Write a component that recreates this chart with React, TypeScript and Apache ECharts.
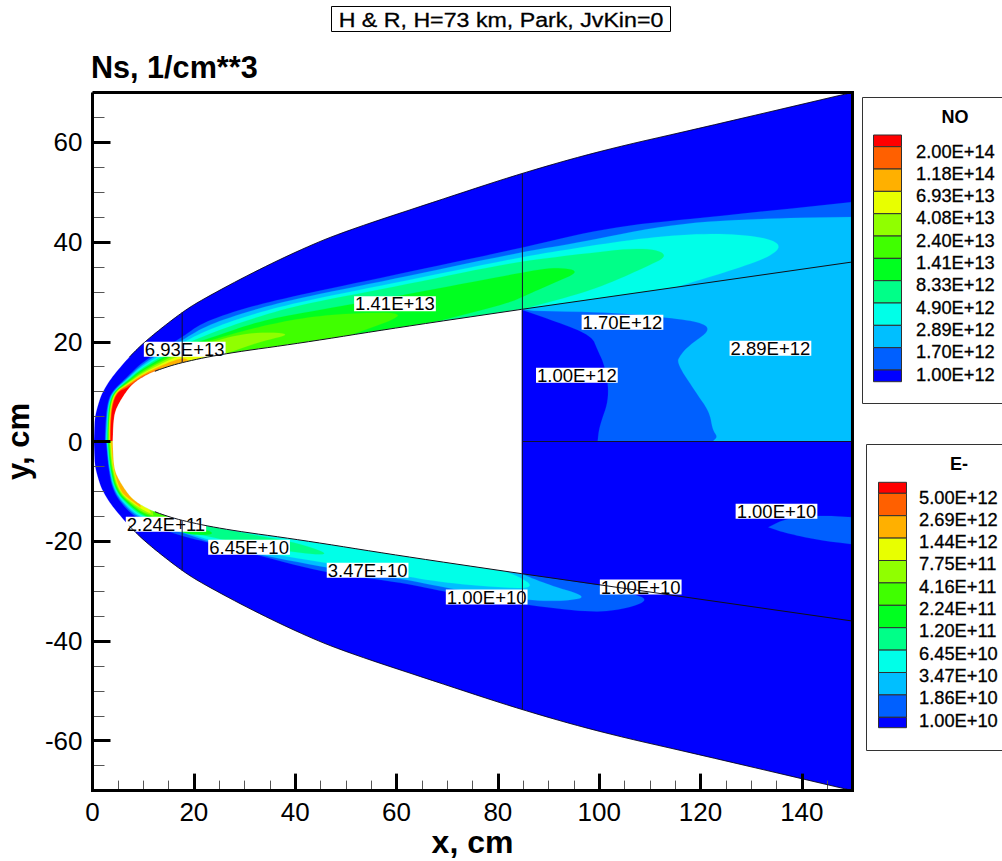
import React, { useEffect, useRef } from "react";
import * as echarts from "echarts";

type P = number[];

// Level colours, lowest to highest
const levelColors = ["#0000ff", "#0060ff", "#00bfff", "#00ffe8", "#00ff88", "#00ff20", "#40ff00", "#90ff00", "#e8ff00", "#ffb000", "#ff6000", "#ff0000"];
const noLabels = ["1.00E+12", "1.70E+12", "2.89E+12", "4.90E+12", "8.33E+12", "1.41E+13", "2.40E+13", "4.08E+13", "6.93E+13", "1.18E+14", "2.00E+14"];
const eLabels = ["1.00E+10", "1.86E+10", "3.47E+10", "6.45E+10", "1.20E+11", "2.24E+11", "4.16E+11", "7.75E+11", "1.44E+12", "2.69E+12", "5.00E+12"];
const majorX = [0, 20, 40, 60, 80, 100, 120, 140];
const majorY = [-60, -40, -20, 0, 20, 40, 60];

// Geometry of the flow field, in cm
const shockUpper: P[] = [[0.3, 0], [0.4, 2.5], [0.5, 4.9], [1.1, 7.3], [1.9, 9.7], [3.3, 12.1], [5, 14.3], [7.4, 17.1], [10, 19.7], [13.7, 22.8], [17.7, 25.9], [21.2, 28.2], [31.1, 33.6], [40.9, 38.4], [49.4, 42], [68.5, 48.4], [84.7, 53.8], [100.7, 58.4], [119.8, 62.8], [150, 70]];
const bodyUpper: P[] = [[4, 0], [4.1, 3.3], [4.4, 5.9], [5.4, 8], [6.8, 10.2], [8, 11.6], [10, 13], [12.7, 14.3], [17.7, 15.9], [26.5, 17.7], [40.9, 19.7], [60.6, 22.9], [84.7, 26.5]];
const bodyWake: P[] = [[84.7, 26.5], [150, 36]];

// NO contours (upper half)
const no170: P[] = [[2.45, 0], [2.55, 3.3], [2.9, 7.5], [3.8, 10], [6.8, 12.9], [10, 16.1], [17.7, 20.9], [21.8, 23.9], [30.5, 26.9], [40.9, 29.4], [60.6, 33.6], [84.7, 38.8], [102.1, 43], [121.8, 45], [150, 48], [150, 0], [99.7, 0], [100, 2.9], [102.1, 8.9], [101.1, 15.3], [99.7, 18.3], [98.5, 21.3], [90.8, 24.3], [85, 26.3]];
const no289: P[] = [[2.6, 0], [2.7, 3.3], [3.05, 7.5], [3.95, 10], [6.8, 12.6], [10, 15.7], [17.7, 20.3], [22.4, 23.2], [31, 26.2], [40.9, 28.8], [60.6, 32.8], [84.7, 38], [95.6, 39.8], [115.3, 43.8], [135, 44.8], [150, 45], [150, 0], [122.4, 0], [123.4, 0.9], [122.4, 2.3], [121.8, 5.9], [119.2, 9.7], [115.3, 15.7], [116, 17.3], [117.8, 19.3], [122, 22.3], [120.2, 23.9], [113.3, 24.9], [102.1, 25.9], [87, 26.2]];
const no490: P[] = [[2.75, 0], [2.85, 3.3], [3.15, 7.5], [4.1, 10], [6.8, 12.4], [10, 15.3], [17.7, 19.8], [23, 22.5], [31.5, 25.5], [40.9, 28], [60.6, 32], [84.7, 37], [95.6, 38.8], [108.6, 40.8], [121.8, 41.8], [132, 41.1], [136.2, 39.4], [133.5, 36.9], [125.1, 34], [115.3, 31]];
const no833: P[] = [[2.9, 0], [2.95, 3.3], [3.25, 7.5], [4.2, 10], [6.8, 12.2], [10, 15], [17.7, 19.3], [23.6, 21.8], [32, 24.8], [40.9, 27.4], [60.6, 31.2], [82.3, 35.8], [95.6, 37.5], [109, 39], [114, 37.4], [109, 34.9], [102.1, 31.8], [96.7, 29.8], [86.3, 26.9]];
const no1410: P[] = [[3, 0], [3.05, 3.3], [3.35, 7.5], [4.3, 10], [6.8, 12], [10, 14.7], [17.7, 18.9], [24, 21], [32.6, 24], [40.9, 25.7], [60.6, 29.2], [82.3, 33.4], [91, 35], [96.5, 34.2], [91, 31.8], [85.7, 29.4], [82.3, 27.8], [68.5, 24.2]];
const no2400: P[] = [[3.1, 0], [3.15, 3.3], [3.45, 7.5], [4.4, 10], [6.8, 11.8], [10, 14.4], [17.7, 18.5], [24, 20.5], [32, 22.8], [40.9, 24.7], [50, 25.7], [63.5, 25.9], [50.8, 21.3]];
const no4080: P[] = [[3.2, 0], [3.2, 3.3], [3.55, 7.5], [4.5, 10], [6.8, 11.6], [10, 14.1], [17.7, 18.1], [22, 19.5], [30.5, 21.9], [40, 21.7], [33, 20], [26.5, 17.7]];
const no6930: P[] = [[3.3, 0], [3.3, 3.3], [3.65, 7.5], [4.6, 10], [6.8, 11.5], [10, 13.8], [17.7, 17.6], [21.2, 17.4], [23, 17]];
const no11800: P[] = [[3.4, 0], [3.4, 3.3], [3.75, 7.5], [4.75, 10], [6.8, 11.3], [10, 13.6], [17.7, 17], [19, 16.2]];
const no20000: P[] = [[3.5, 0], [3.5, 3.3], [3.85, 7.5], [4.9, 10], [6.8, 11.1], [10, 13.3], [13.3, 14.7]];
const noRed: P[] = [[3.6, 0], [3.6, 3.3], [3.95, 7.5], [5, 10], [6.8, 10.7], [9, 12.4], [10.4, 12.9]];

// E- contours (lower half)
const e186: P[] = [[2.7, 0], [3.1, -5], [4, -10], [6.8, -13.8], [10, -16.2], [17.7, -19], [21.2, -19.8], [31.1, -22.4], [46.3, -26.4], [60.6, -28.2], [69.9, -30.2], [85.7, -32.8], [98.7, -34.3], [105, -33.6], [110, -31.8], [106, -30.3], [100.1, -28.8]];
const e347: P[] = [[2.8, 0], [3.2, -5], [4.2, -10], [7, -13.6], [10, -15.7], [17.7, -18.3], [27.7, -21.6], [46.5, -25.4], [60.6, -27.4], [69.9, -29.4], [85.9, -31.9], [93, -32], [98, -31.2], [90.2, -28.8], [85.7, -27], [84.7, -26.5]];
const e645: P[] = [[2.9, 0], [3.3, -5], [4.35, -10], [7.2, -13.4], [10, -15.4], [17.7, -18], [27.7, -21.2], [46.3, -24.4], [60.6, -26.8], [69.9, -28.4], [85, -29.6], [86.8, -28.8], [84.3, -27.2], [81.4, -26]];
const e1200: P[] = [[3, 0], [3.4, -5], [4.5, -10], [7.4, -13.2], [10, -15.1], [17.7, -17.8], [27, -20], [39.5, -22.2], [47.5, -22.9], [40.9, -20.4], [30, -18.4], [23, -17]];
const e2240: P[] = [[3.1, 0], [3.5, -5], [4.65, -10], [7.6, -13], [10, -14.8], [17.7, -18.4], [22, -18.8], [24.2, -18.4], [21, -17.2], [19, -16.2]];
const e4160: P[] = [[3.25, 0], [3.6, -5], [4.8, -10], [7.8, -12.9], [10, -14.5], [13.3, -15.6], [15, -15.4]];
const e7750: P[] = [[3.4, 0], [3.75, -5], [5, -10], [7.9, -12.7], [10, -14.2], [12, -14.9]];
const e14400: P[] = [[3.55, 0], [3.9, -5], [5.2, -10], [8, -12.5], [10.5, -14], [11.5, -14.4]];
const e26900: P[] = [[3.7, 0], [4.05, -5], [5.45, -10], [7.5, -11.7], [9.5, -13.2]];
const eWakeBlob: P[] = [[133.4, -17.2], [136.9, -15.4], [143.5, -14.8], [150, -15.2], [150, -20.6], [143.5, -19.8], [136.9, -18.4], [133.4, -17.2]];

// Contour labels: x, y, text
const contourLabels: [number, number, string][] = [
  [59.7, 27.6, "1.41E+13"], [18.2, 18.5, "6.93E+13"], [104.6, 23.9, "1.70E+12"], [133.8, 18.7, "2.89E+12"], [95.6, 13.3, "1.00E+12"],
  [14.5, -16.6, "2.24E+11"], [30.9, -21.2, "6.45E+10"], [54.3, -25.8, "3.47E+10"], [77.8, -31.2, "1.00E+10"], [108.2, -29.2, "1.00E+10"], [135, -14, "1.00E+10"],
];

// Rounds a contour's drawn corners (corner cutting); points on the right edge or on y=0 stay sharp.
const rounded = (pts: P[]): P[] => {
  const isCorner = (p: P) => p[0] === 150 || p[1] === 0;
  let cur = pts;
  for (let it = 0; it < 3; it++) {
    const out: P[] = [cur[0]];
    for (let i = 0; i < cur.length - 1; i++) {
      const a = cur[i], b = cur[i + 1];
      const keepA = i === 0 || isCorner(a);
      const keepB = i === cur.length - 2 || isCorner(b);
      if (!keepA) out.push([0.75 * a[0] + 0.25 * b[0], 0.75 * a[1] + 0.25 * b[1]]);
      if (!keepB) out.push([0.25 * a[0] + 0.75 * b[0], 0.25 * a[1] + 0.75 * b[1]]);
      if (keepB) out.push(b);
    }
    cur = out;
  }
  return cur;
};

const mirror = (pts: P[]): P[] => pts.map(([x, y]) => [x, -y]);
const bodyRound = rounded(bodyUpper);
const shockRound = rounded(shockUpper);
const closeOnBody = (edge: P[], sign: number): P[] => {
  const endX = edge[edge.length - 1][0];
  const back = bodyRound.filter(([x]) => x < endX).reverse().map(([x, y]) => [x, sign * y]);
  return [...rounded(edge), ...back];
};

const domain: P[] = [...shockRound, ...mirror(shockRound).reverse()];
const bodyMask: P[] = [...bodyRound, ...mirror(bodyRound).reverse()];

const fills: { pts: P[]; color: string }[] = [
  { pts: domain, color: levelColors[0] },
  ...[no170, no289, no490, no833, no1410, no2400, no4080, no6930, no11800, no20000, noRed].map((e, i) => ({ pts: closeOnBody(e, 1), color: levelColors[i + 1] })),
  ...[e186, e347, e645, e1200, e2240, e4160, e7750, e14400, e26900].map((e, i) => ({ pts: closeOnBody(e, -1), color: levelColors[i + 1] })),
  { pts: rounded(eWakeBlob), color: levelColors[1] },
  { pts: bodyMask, color: "#ffffff" },
];

const shockOutlineU = shockRound.filter(([x]) => x >= 7);
const bodyOutlineU = [...bodyRound.filter(([x]) => x >= 12), bodyWake[1]];
const strokes: { pts: P[]; w: number; c: string }[] = [
  { pts: shockOutlineU, w: 0.8, c: "#000000" },
  { pts: mirror(shockOutlineU), w: 0.8, c: "#000000" },
  { pts: bodyOutlineU, w: 1, c: "#101018" },
  { pts: mirror(bodyOutlineU), w: 1, c: "#101018" },
  { pts: [[84.85, 53.8], [84.85, -53.8]], w: 1, c: "#101030" },
  { pts: [[84.85, 0], [150, 0]], w: 1, c: "#101030" },
  { pts: [[17.7, 25.9], [17.7, 15.9]], w: 1, c: "#101030" },
  { pts: [[17.7, -15.9], [17.7, -25.9]], w: 1, c: "#101030" },
];
const frame: P[] = [[0, 70], [150, 70], [150, -70], [0, -70], [0, 70]];

const FONT = '"Liberation Sans", Arial, sans-serif';

function legend(title: string, labels: string[], L: { boxX: number; boxY: number; boxH: number; swX: number; top: number; first: number; step: number; bottom: number; textX: number; textY: number; titleX: number; titleY: number }) {
  const els: any[] = [];
  els.push({ type: "rect", shape: { x: L.boxX + 0.5, y: L.boxY + 0.5, width: 1010 - L.boxX, height: L.boxH }, style: { fill: "#fff", stroke: "#333", lineWidth: 1 } });
  els.push({ type: "text", x: L.titleX, y: L.titleY, style: { text: title, font: `bold 18px ${FONT}`, fill: "#000", align: "center", verticalAlign: "middle" } });
  const n = levelColors.length;
  for (let i = 0; i < n; i++) {
    const idxTop = n - 1 - i;
    const y0 = i === 0 ? L.top : L.first + (i - 1) * L.step;
    const y1 = i === n - 1 ? L.bottom : L.first + i * L.step;
    els.push({ type: "rect", shape: { x: L.swX + 0.5, y: y0, width: 28, height: y1 - y0 }, style: { fill: levelColors[idxTop], stroke: "#303030", lineWidth: 1 } });
  }
  labels.slice().reverse().forEach((t, i) => {
    els.push({ type: "text", x: L.textX, y: L.textY + i * 22.3, style: { text: t, font: `18.3px ${FONT}`, fill: "#000", align: "left", verticalAlign: "middle", stroke: "#000", lineWidth: 0.3 } });
  });
  return els;
}

export default function App() {
  const ref = useRef<HTMLDivElement>(null);
  useEffect(() => {
    document.body.style.margin = "0";
    const chart = echarts.init(ref.current!, null, { renderer: "svg" });
    const polyRender = (list: any[], closed: boolean) => (params: any, api: any) => {
      const item = list[params.dataIndex];
      const points = item.pts.map((p: P) => api.coord(p));
      if (closed) return { type: "polygon", shape: { points }, style: { fill: item.color, stroke: item.color, lineWidth: 0.2 } };
      return { type: "polyline", shape: { points }, style: { fill: "none", stroke: item.c, lineWidth: item.w } };
    };
    const common = { min: 0, max: 150, type: "value" as const, splitLine: { show: false } };
    const commonY = { min: -70, max: 70, type: "value" as const, splitLine: { show: false } };
    chart.setOption({
      animation: false,
      backgroundColor: "#ffffff",
      grid: { left: 92.5, top: 92.4, width: 760, height: 698.2, containLabel: false, outerBoundsMode: "none" },
      xAxis: [
        {
          ...common, interval: 20, z: 5, position: "bottom",
          name: "x, cm", nameLocation: "middle", nameGap: 35, nameMoveOverlap: false,
          nameTextStyle: { fontFamily: FONT, fontWeight: "bold", fontSize: 32, color: "#000" },
          axisLine: { show: false, onZero: false },
          axisTick: { inside: true, length: 17, lineStyle: { width: 3, color: "#000" }, customValues: majorX },
          axisLabel: { customValues: majorX, margin: 8, fontFamily: FONT, fontSize: 26, color: "#000" },
        },
        {
          ...common, interval: 5, z: 4, position: "bottom", axisLine: { show: false, onZero: false },
          axisTick: { inside: true, length: 10, lineStyle: { width: 1, color: "#555" } }, axisLabel: { show: false },
        },
      ],
      yAxis: [
        {
          ...commonY, interval: 10, z: 5, position: "left",
          name: "y, cm", nameLocation: "middle", nameGap: 58,
          nameTextStyle: { fontFamily: FONT, fontWeight: "bold", fontSize: 31, color: "#000" },
          axisLine: { show: false, onZero: false },
          axisTick: { inside: true, length: 18, lineStyle: { width: 3, color: "#000" }, customValues: majorY },
          axisLabel: { customValues: majorY, margin: 10, fontFamily: FONT, fontSize: 26, color: "#000" },
        },
        {
          ...commonY, interval: 5, z: 4, position: "left", axisLine: { show: false, onZero: false },
          axisTick: { inside: true, length: 12, lineStyle: { width: 1, color: "#555" } }, axisLabel: { show: false },
        },
      ],
      series: [
        { type: "custom", z: 2, clip: false, silent: true, coordinateSystem: "cartesian2d", data: fills.map((_, i) => [i]), renderItem: polyRender(fills, true) },
        {
          type: "scatter", z: 6, silent: true, symbolSize: 0, itemStyle: { opacity: 1 },
          data: contourLabels.map(([x, y, t]) => ({ value: [x, y], name: t })),
          label: { show: true, position: "inside", opacity: 1, formatter: (p: any) => p.name, fontFamily: FONT, fontSize: 18.5, color: "#000", backgroundColor: "#fff", padding: [0, 1, 0, 1], lineHeight: 15, height: 15 },
        },
        { type: "custom", z: 7, clip: false, silent: true, coordinateSystem: "cartesian2d", data: strokes.map((_, i) => [i]), renderItem: polyRender(strokes, false) },
        { type: "custom", z: 8, clip: false, silent: true, coordinateSystem: "cartesian2d", data: [[0]], renderItem: polyRender([{ pts: frame, c: "#000", w: 3 }], false) },
      ],
      graphic: [
        { type: "rect", shape: { x: 331.5, y: 6.5, width: 339, height: 25 }, style: { fill: "#fff", stroke: "#000", lineWidth: 1 } },
        { type: "text", x: 501, y: 19.5, scaleX: 1.105, style: { text: "H & R, H=73 km, Park, JvKin=0", font: `21px ${FONT}`, fill: "#000", align: "center", verticalAlign: "middle", stroke: "#000", lineWidth: 0.3 } },
        { type: "text", x: 91, y: 67, style: { text: "Ns, 1/cm**3", font: `bold 30.6px ${FONT}`, fill: "#000", align: "left", verticalAlign: "middle" } },
        ...legend("NO", noLabels, { boxX: 862, boxY: 97, boxH: 306, swX: 873, top: 135, first: 146.7, step: 22.33, bottom: 381.7, textX: 916, textY: 151, titleX: 955, titleY: 117 }),
        ...legend("E-", eLabels, { boxX: 866, boxY: 444, boxH: 306, swX: 878, top: 482.3, first: 493.3, step: 22.4, bottom: 727.7, textX: 919, textY: 497, titleX: 959, titleY: 464 }),
      ],
    });
    return () => chart.dispose();
  }, []);
  return <div ref={ref} style={{ width: 1002, height: 861 }} />;
}
